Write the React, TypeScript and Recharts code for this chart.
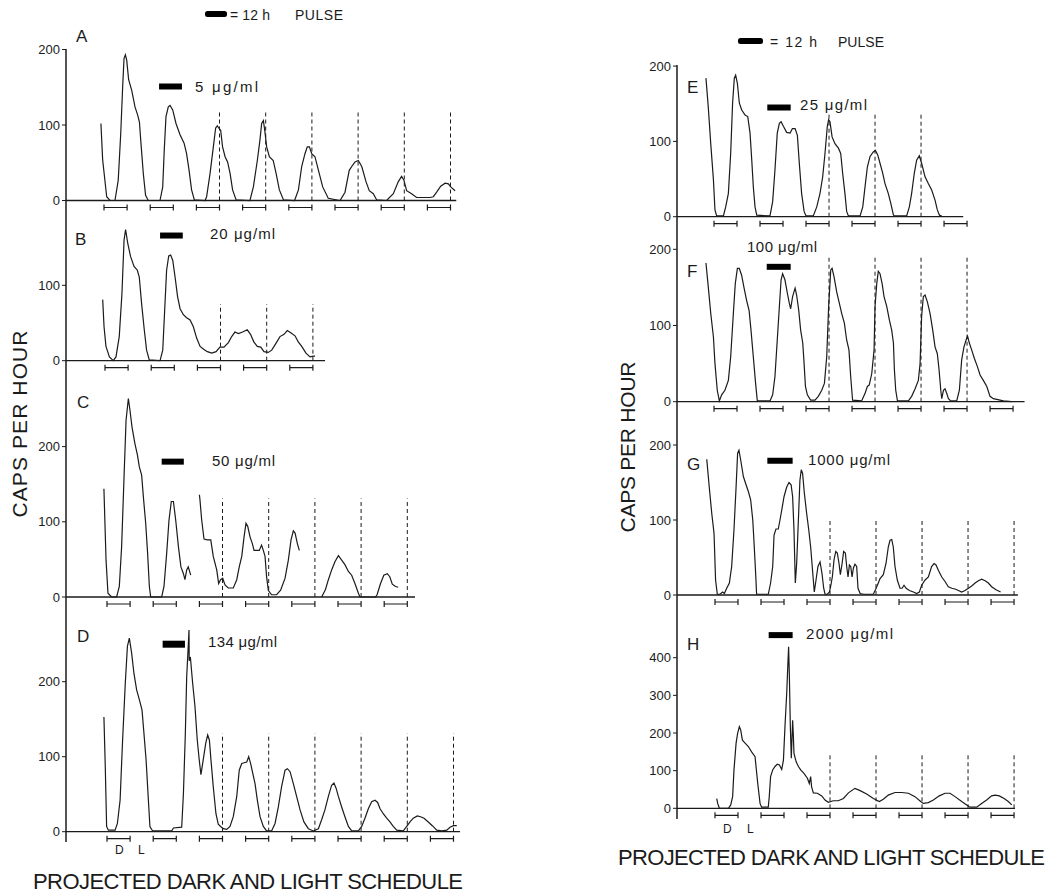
import React from "react";
import { LineChart, Line, XAxis, YAxis } from "recharts";

type Pt = [number, number | null];

// x = hours after the first projected dark onset, y = caps per hour
const traceA: Pt[] = [[-1.6,102],[-0.7,54],[1.4,5],[3.1,0],[5.7,0],[7.4,27],[8.7,89],[9.7,151],[10.4,188],[11.1,193],[11.8,186],[12.8,160],[14.4,146],[16.1,124],[17.5,113],[18.4,104],[19.2,76],[20.4,36],[21.6,7],[23.0,0],[29.1,0],[30.5,18],[31.3,67],[32.2,111],[33.4,124],[34.3,126],[35.7,120],[37.4,102],[39.5,87],[41.6,76],[42.9,62],[44.2,40],[45.5,14],[46.9,1],[52.5,0],[53.3,5],[55.1,36],[56.8,71],[58.0,96],[58.9,99],[59.6,96],[60.6,93],[61.6,71],[62.9,58],[64.2,51],[65.5,36],[66.8,14],[68.6,1],[75.8,0],[77.6,18],[79.7,54],[81.0,80],[81.9,102],[82.8,106],[83.6,91],[84.5,71],[85.9,58],[87.9,53],[89.4,36],[91.1,14],[93.2,1],[99.0,0],[101.0,14],[102.7,45],[104.4,62],[105.6,71],[106.7,71],[107.9,62],[109.6,58],[111.4,40],[113.6,18],[116.5,3],[122.6,0],[125.2,11],[127.4,40],[129.2,47],[130.4,51],[132.1,53],[133.9,45],[136.1,25],[137.8,13],[139.9,9],[141.6,1],[146.8,0],[150.3,9],[152.9,25],[154.6,32],[155.8,27],[157.2,13],[159.8,9],[162.4,4],[169.4,4],[171.1,5],[172.8,11],[174.9,19],[177.2,23],[178.9,22],[180.1,18],[182.4,13]];

const traceB: Pt[] = [[-1.2,81],[-0.5,45],[0.5,19],[2.3,5],[4.3,0],[5.7,5],[7.4,32],[8.8,89],[9.9,160],[10.7,174],[11.8,156],[13.3,138],[15.1,125],[16.8,120],[17.8,111],[19.0,76],[20.4,41],[21.6,14],[23.0,1],[28.6,0],[30.0,14],[31.0,67],[32.0,120],[33.1,139],[34.1,140],[35.2,133],[36.4,111],[37.7,85],[39.0,69],[40.7,61],[42.4,57],[44.2,54],[45.9,45],[47.6,30],[49.4,19],[51.4,15],[53.2,12],[55.4,10],[57.7,12],[59.7,18],[61.8,18],[64.1,24],[65.8,32],[67.5,38],[69.3,36],[71.5,38],[73.9,41],[75.6,35],[77.3,25],[79.1,19],[80.9,18],[82.6,12],[84.8,11],[86.6,14],[88.8,23],[90.9,32],[93.0,35],[94.7,40],[96.5,37],[98.7,33],[100.4,25],[102.2,19],[104.4,10],[106.5,5],[108.2,6],[109.1,6]];

const traceC: Pt[] = [[-1.6,144],[-0.5,49],[0.5,5],[2.4,0],[5.0,0],[6.4,14],[7.6,67],[8.8,156],[9.9,235],[11.1,264],[11.9,249],[13.0,226],[14.5,204],[15.8,189],[16.8,173],[18.0,162],[18.9,133],[20.1,98],[21.1,58],[22.0,14],[22.7,0],[28.4,0],[29.6,14],[31.0,58],[32.2,102],[33.4,127],[34.5,127],[35.7,102],[37.1,67],[38.4,40],[39.7,31],[40.5,23],[41.4,36],[42.2,40],[43.5,29],[43.6,null],[48.0,136],[48.3,129],[49.2,102],[50.4,77],[52.1,76],[53.9,76],[55.2,54],[57.0,36],[58.0,18],[59.0,23],[60.1,25],[61.3,16],[63.0,12],[65.6,12],[67.4,23],[68.7,40],[70.0,54],[71.2,80],[72.2,98],[73.1,94],[74.3,80],[75.5,71],[76.4,62],[77.7,62],[79.1,62],[80.3,69],[81.2,62],[82.1,54],[82.9,27],[83.8,9],[85.5,3],[88.1,3],[90.2,9],[92.5,25],[94.2,49],[95.6,76],[96.8,88],[97.7,85],[98.9,71],[99.9,62],[100.0,null],[111.5,0],[113.5,10],[115.0,23],[116.7,36],[118.4,47],[120.2,55],[121.9,49],[123.6,43],[125.4,34],[127.1,29],[128.8,18],[130.6,5],[131.4,0],[139.5,0],[140.3,3],[142.1,18],[143.8,29],[145.6,31],[146.9,27],[148.2,17],[149.9,14],[151.3,13]];

const traceD: Pt[] = [[-1.6,153],[-0.9,87],[-0.2,7],[0.7,2],[4.2,2],[5.4,11],[6.8,42],[8.1,122],[9.5,198],[10.6,247],[11.6,258],[12.8,238],[14.0,211],[15.4,189],[16.8,176],[18.2,162],[19.2,131],[20.3,96],[21.5,42],[22.3,7],[23.7,1],[33.6,1],[34.5,5],[38.8,6],[39.7,51],[40.7,131],[41.4,207],[42.1,242],[42.6,269],[42.7,228],[43.3,233],[44.5,198],[45.7,167],[46.9,122],[47.9,96],[48.8,76],[50.0,96],[51.3,118],[52.3,129],[53.2,122],[54.0,96],[55.2,60],[56.6,24],[57.8,10],[59.0,7],[60.4,4],[62.2,3],[63.9,7],[65.6,20],[67.4,47],[68.7,82],[70.0,91],[71.3,92],[72.6,93],[73.6,100],[74.6,91],[75.7,78],[76.9,64],[78.1,42],[79.5,20],[81.2,7],[82.9,1],[85.5,1],[87.3,11],[89.0,33],[90.7,60],[92.5,82],[93.7,84],[95.1,80],[96.8,64],[98.5,47],[100.3,29],[102.3,13],[104.6,4],[107.2,1],[109.8,4],[111.5,16],[113.2,29],[115.0,47],[116.7,62],[117.9,65],[119.0,58],[120.2,47],[121.9,33],[123.6,20],[125.4,7],[127.1,1],[130.6,1],[132.3,7],[134.0,18],[135.8,31],[137.5,40],[139.2,42],[140.6,39],[141.8,31],[143.5,24],[145.3,18],[147.0,13],[148.7,7],[150.5,2],[153.9,1],[155.7,7],[157.4,13],[159.1,18],[161.2,21],[162.9,20],[164.7,18],[166.9,13],[169.0,8],[171.3,2],[173.9,1],[176.5,2],[178.2,6],[180.0,8],[181.7,8]];

const traceE: Pt[] = [[-4.2,184],[-3.0,146],[-1.7,97],[-0.3,49],[0.5,9],[1.4,1],[4.9,1],[6.1,13],[7.5,31],[8.7,84],[9.7,151],[10.6,184],[11.3,188],[12.2,177],[13.2,151],[14.4,142],[16.2,135],[17.6,133],[18.8,111],[19.7,75],[20.5,40],[21.4,13],[22.3,2],[29.2,1],[30.6,20],[31.8,62],[33.0,111],[34.1,124],[35.0,126],[36.2,120],[37.9,112],[39.7,111],[40.9,117],[42.3,117],[43.5,108],[44.5,71],[45.7,31],[47.0,7],[48.0,1],[51.8,1],[53.6,13],[55.3,31],[56.7,53],[57.9,84],[59.1,120],[59.8,129],[60.5,126],[61.6,106],[63.1,97],[64.9,91],[66.1,84],[67.1,58],[68.3,31],[69.2,7],[70.1,1],[76.2,1],[77.6,13],[78.8,40],[80.0,66],[81.4,80],[83.1,86],[84.2,88],[85.4,82],[86.6,71],[88.0,58],[89.2,44],[90.9,31],[92.2,18],[93.6,2],[94.4,1],[100.5,1],[101.9,13],[103.1,31],[104.5,58],[105.7,75],[107.1,81],[108.3,71],[110.1,53],[111.8,44],[113.6,35],[115.3,22],[116.5,9],[117.6,2],[118.8,1]];

const traceF: Pt[] = [[-4.2,182],[-3.0,151],[-1.7,116],[-0.3,85],[0.5,50],[1.7,15],[2.8,1],[4.0,9],[5.7,15],[7.5,28],[8.7,59],[10.1,116],[11.1,155],[12.2,175],[13.2,175],[14.4,166],[15.7,149],[17.0,133],[18.3,120],[19.3,94],[20.5,59],[21.7,24],[22.6,1],[29.2,1],[30.6,9],[31.8,33],[33.0,81],[34.1,125],[35.0,160],[35.8,168],[37.0,160],[38.3,142],[39.3,129],[40.0,122],[41.0,138],[42.3,149],[43.1,140],[44.2,120],[45.2,94],[46.3,77],[47.0,50],[47.7,20],[48.7,9],[50.4,2],[52.7,2],[54.4,7],[56.2,15],[57.6,24],[58.8,59],[59.8,125],[60.9,173],[61.6,175],[62.6,164],[64.0,144],[65.4,129],[66.6,116],[68.0,103],[69.2,81],[70.4,68],[71.3,33],[72.3,2],[77.0,1],[78.8,11],[80.0,20],[81.0,22],[82.3,37],[83.5,68],[84.0,125],[84.9,155],[85.7,171],[86.6,168],[87.7,155],[88.7,138],[90.1,125],[91.5,107],[92.7,94],[93.6,77],[94.1,42],[94.8,15],[95.7,1],[101.4,1],[103.1,7],[104.9,17],[106.6,28],[107.5,50],[108.3,112],[109.2,138],[110.1,140],[111.3,131],[112.7,116],[114.1,94],[115.3,72],[116.5,63],[117.4,42],[118.3,15],[118.8,4],[119.7,15],[120.5,17],[121.4,11],[122.3,4],[123.5,1],[126.6,1],[128.0,15],[129.2,55],[130.4,72],[131.5,81],[132.3,86],[133.2,77],[134.4,68],[135.8,57],[137.4,46],[138.8,35],[140.5,28],[142.3,20],[144.0,7],[145.7,4],[147.5,3],[149.2,2],[151.0,1],[155.3,0]];

const traceG: Pt[] = [[-4.3,181],[-3.0,144],[-1.7,109],[-0.5,82],[0.3,20],[1.2,1],[2.6,1],[4.0,4],[4.9,2],[6.1,9],[7.5,16],[8.7,38],[9.9,87],[11.0,144],[11.8,189],[12.5,193],[13.4,180],[14.8,158],[16.2,147],[17.4,138],[18.6,127],[19.7,100],[20.3,73],[21.2,29],[21.7,1],[27.8,1],[29.0,16],[30.1,38],[30.8,80],[31.8,88],[33.0,88],[33.9,100],[34.8,113],[36.0,131],[37.4,144],[38.6,150],[39.7,147],[40.5,131],[41.2,87],[41.9,16],[42.6,42],[43.5,100],[44.3,153],[45.0,167],[45.7,162],[46.6,136],[47.8,109],[48.9,87],[49.9,64],[51.0,29],[51.8,4],[52.7,20],[53.7,38],[54.8,44],[55.8,29],[56.7,9],[57.4,1],[58.6,1],[59.7,4],[60.3,11],[61.2,24],[62.1,47],[63.0,58],[63.8,56],[64.7,42],[65.4,27],[66.3,42],[67.1,58],[68.0,56],[68.7,38],[69.4,24],[70.1,40],[70.8,38],[71.5,24],[72.2,36],[73.0,41],[73.9,38],[74.6,9],[75.7,2],[77.4,1],[82.6,1],[83.7,7],[84.7,13],[86.1,22],[87.8,27],[89.2,42],[90.4,64],[91.3,73],[92.2,74],[93.0,64],[93.9,38],[95.1,20],[96.5,9],[97.6,9],[98.6,13],[99.7,9],[101.4,6],[103.5,4],[105.2,2],[106.6,4],[107.8,13],[109.6,20],[111.3,24],[113.0,38],[114.3,42],[115.3,40],[116.5,33],[118.3,24],[120.0,18],[121.7,11],[123.5,9],[125.2,8],[127.0,6],[128.7,4],[130.4,6],[132.2,9],[133.9,12],[135.7,16],[137.4,19],[139.1,21],[140.9,19],[142.6,16],[144.3,11],[146.6,7],[149.0,4]];

const traceH: Pt[] = [[0.9,26],[1.4,13],[2.3,0],[7.0,0],[8.2,9],[9.2,31],[9.9,102],[11.0,173],[11.8,199],[12.7,217],[13.4,208],[14.3,181],[15.7,173],[17.4,164],[19.1,150],[20.9,137],[21.4,111],[22.3,66],[23.5,13],[24.3,3],[27.8,3],[28.3,31],[29.0,84],[30.1,102],[31.3,111],[32.5,117],[33.6,115],[34.8,103],[35.7,128],[36.5,217],[37.4,305],[38.1,394],[38.4,429],[38.8,350],[39.3,217],[39.8,133],[40.2,190],[40.5,234],[40.9,190],[41.2,146],[42.3,124],[43.5,111],[44.7,102],[46.4,93],[48.2,80],[49.2,66],[49.9,84],[50.4,57],[51.3,41],[53.4,40],[55.7,33],[57.4,22],[59.1,16],[61.7,20],[64.3,20],[67.0,26],[69.6,41],[73.0,53],[75.7,47],[79.1,38],[82.6,26],[85.7,18],[87.8,24],[90.4,35],[93.9,42],[97.4,42],[100.9,40],[104.3,31],[107.3,18],[108.7,13],[111.3,15],[113.9,22],[117.0,33],[120.0,40],[122.6,40],[125.2,31],[128.7,18],[131.3,9],[133.0,3],[136.5,3],[139.1,13],[141.7,22],[144.3,33],[146.1,35],[148.3,33],[150.8,26],[153.0,18],[154.8,9]];

// projected dark periods (onset hours; each lasts 12 h)
const darkA = [0, 24, 48, 72, 96, 120, 144, 168];
const darkB = [0, 24, 48, 72, 96];
const darkC = [0, 24, 48, 72, 96, 120, 144];
const darkD = [0, 24, 48, 72, 96, 120, 144, 168];
const darkE = [0, 24, 48, 72, 96, 120];
const darkF = [0, 24, 48, 72, 96, 120, 144];
const darkG = [0, 24, 48, 72, 96, 120, 144];
const darkH = [0, 24, 48, 72, 96, 120, 144];

// dashed markers at projected dark ends
const dashA = [60, 84, 108, 132, 156, 180];
const dashB = [60, 84, 108];
const dashC = [60, 84, 108, 132, 156];
const dashD = [60, 84, 108, 132, 156, 180];
const dashE = [60, 84, 108];
const dashF = [60, 84, 108, 132];
const dashG = [60, 84, 108, 132, 156];
const dashH = [60, 84, 108, 132, 156];

// drug pulse: [start h, end h, drawn at level]
const pulseA = [28.6, 40.5, 151];
const pulseB = [28.6, 40.4, 166];
const pulseC = [28.4, 39.9, 180];
const pulseD = [28.9, 40.5, 250];
const pulseE = [27.8, 40.0, 145];
const pulseF = [27.5, 40.0, 177];
const pulseG = [27.3, 40.5, 179];
const pulseH = [28.0, 40.5, 460];

const doses = ["5 μg/ml", "20 μg/ml", "50 μg/ml", "134 μg/ml", "25 μg/ml", "100 μg/ml", "1000 μg/ml", "2000 μg/ml"];
const letters = ["A", "B", "C", "D", "E", "F", "G", "H"];

const FONT = '"Liberation Sans", Arial, sans-serif';
const INK = "#1b1b1b";

interface Panel {
  trace: Pt[];
  dark: number[];
  dashed: number[];
  dashTop: number;
  pulse: number[];
  pulseW: number;
  ticks: number[];
  axisX: number;
  plotRight: number;
  hour0: number;
  pph: number;
  top: number;
  bottom: number;
  zeroY: number;
  ppu: number;
  baseEnd: number;
}

const L = { axisX: 66, plotRight: 468, pph: 1.925 };
const R = { axisX: 677, plotRight: 1030, pph: 1.917 };

const panels: Panel[] = [
  { ...L, trace: traceA, dark: darkA, dashed: dashA, dashTop: 118, pulse: pulseA, pulseW: 6, ticks: [0, 100, 200], hour0: 104, top: 49, bottom: 215, zeroY: 200.5, ppu: 0.755, baseEnd: 183 },
  { ...L, trace: traceB, dark: darkB, dashed: dashB, dashTop: 75, pulse: pulseB, pulseW: 6, ticks: [0, 100], hour0: 105, top: 215, bottom: 380, zeroY: 360.7, ppu: 0.754, baseEnd: 114.3 },
  { ...L, trace: traceC, dark: darkC, dashed: dashC, dashTop: 131, pulse: pulseC, pulseW: 6, ticks: [0, 100, 200], hour0: 107, top: 380, bottom: 610, zeroY: 597, ppu: 0.752, baseEnd: 160 },
  { ...L, trace: traceD, dark: darkD, dashed: dashD, dashTop: 131, pulse: pulseD, pulseW: 7, ticks: [0, 100, 200], hour0: 107, top: 610, bottom: 842, zeroY: 831.7, ppu: 0.75, baseEnd: 183.4 },
  { ...R, trace: traceE, dark: darkE, dashed: dashE, dashTop: 138, pulse: pulseE, pulseW: 6, ticks: [0, 100, 200], hour0: 714, top: 65, bottom: 235, zeroY: 216.7, ppu: 0.753, baseEnd: 130 },
  { ...R, trace: traceF, dark: darkF, dashed: dashF, dashTop: 192, pulse: pulseF, pulseW: 6, ticks: [0, 100, 200], hour0: 714, top: 235, bottom: 425, zeroY: 401.7, ppu: 0.762, baseEnd: 162 },
  { ...R, trace: traceG, dark: darkG, dashed: dashG, dashTop: 100, pulse: pulseG, pulseW: 6, ticks: [0, 100, 200], hour0: 715, top: 425, bottom: 618, zeroY: 595, ppu: 0.75, baseEnd: 158 },
  { ...R, trace: traceH, dark: darkH, dashed: dashH, dashTop: 145, pulse: pulseH, pulseW: 6, ticks: [0, 100, 200, 300, 400], hour0: 715, top: 618, bottom: 819, zeroY: 808.3, ppu: 0.3765, baseEnd: 156.5 },
];

// label placements: [x, baseline, textLength]
const letterPos = [[76, 42], [75, 245], [77, 408], [77, 642], [687, 93], [687, 277], [687, 470], [687, 650]];
const dosePos = [[195, 92, 63], [210, 239, 65], [212, 466, 63], [208, 647, 69], [800, 110, 67], [747, 252, 70], [808, 465, 82], [806, 639, 87]];

const YW = 40;
const M = { top: 8, right: 10, bottom: 10, left: 0 };

function PanelChart({ p }: { p: Panel }) {
  const xMin = (p.axisX - p.hour0) / p.pph;
  const xMax = (p.plotRight - p.hour0) / p.pph;
  const yMax = (p.zeroY - p.top) / p.ppu;
  const yMin = -(p.bottom - p.zeroY) / p.ppu;
  const plotW = p.plotRight - p.axisX;
  const plotH = p.bottom - p.top;

  const trace = p.trace.map(([x, y]) => ({ x, y }));
  const by = -7 / p.ppu;
  const cap = 3 / p.ppu;
  const brackets = p.dark.flatMap((o) => [
    { x: o, y: by + cap }, { x: o, y: by - cap }, { x: o, y: by },
    { x: o + 12, y: by }, { x: o + 12, y: by + cap }, { x: o + 12, y: by - cap },
    { x: o + 12, y: null },
  ]);
  const dashes = p.dashed.flatMap((h) => [{ x: h, y: 0 }, { x: h, y: p.dashTop }, { x: h, y: null }]);
  const pulse = [{ x: p.pulse[0], y: p.pulse[2] }, { x: p.pulse[1], y: p.pulse[2] }];
  const base = [{ x: xMin, y: 0 }, { x: p.baseEnd, y: 0 }];

  const common = { dataKey: "y", dot: false, activeDot: false, isAnimationActive: false, type: "linear" as const };

  return (
    <div style={{ position: "absolute", left: p.axisX - YW, top: p.top - M.top }}>
      <LineChart width={YW + plotW + M.right} height={plotH + M.top + M.bottom} margin={M}>
        <XAxis dataKey="x" type="number" domain={[xMin, xMax]} hide height={0} />
        <YAxis
          type="number"
          domain={[yMin, yMax]}
          ticks={p.ticks}
          width={YW}
          stroke={INK}
          axisLine={{ stroke: INK, strokeWidth: 1.5 }}
          tickSize={4}
          tickMargin={2}
          tick={{ fontSize: 13, fill: INK, fontFamily: FONT }}
        />
        <Line {...common} data={base} stroke={INK} strokeWidth={1.3} />
        <Line {...common} data={dashes} stroke={INK} strokeWidth={1} strokeDasharray="4 3" />
        <Line {...common} data={brackets} stroke={INK} strokeWidth={1.2} />
        <Line {...common} data={pulse} stroke="#000" strokeWidth={p.pulseW} />
        <Line {...common} data={trace} stroke={INK} strokeWidth={1.2} />
      </LineChart>
    </div>
  );
}

export default function App() {
  const txt = { fontFamily: FONT, fill: INK };
  return (
    <div style={{ position: "absolute", left: 0, top: 0, width: 1052, height: 894, background: "#fff", overflow: "hidden" }}>
      <svg width={1052} height={894} style={{ position: "absolute", left: 0, top: 0 }}>
        {/* pulse key, left and right */}
        <rect x={205} y={11} width={22} height={6} rx={2.5} fill="#000" />
        <text x={230} y={20} fontSize={14} textLength={40} {...txt}>= 12 h</text>
        <text x={295} y={20} fontSize={14} textLength={48} {...txt}>PULSE</text>
        <rect x={738} y={38} width={25} height={6} rx={2.5} fill="#000" />
        <text x={770} y={47} fontSize={14} textLength={47} {...txt}>= 12 h</text>
        <text x={838} y={47} fontSize={14} textLength={46} {...txt}>PULSE</text>

        {letters.map((l, i) => (
          <text key={l} x={letterPos[i][0]} y={letterPos[i][1]} fontSize={17} {...txt}>{l}</text>
        ))}
        {doses.map((d, i) => (
          <text key={d} x={dosePos[i][0]} y={dosePos[i][1]} fontSize={15} textLength={dosePos[i][2]} {...txt}>{d}</text>
        ))}

        <text transform="translate(27,424) rotate(-90)" textAnchor="middle" fontSize={21} textLength={187} {...txt}>CAPS PER HOUR</text>
        <text transform="translate(635,447) rotate(-90)" textAnchor="middle" fontSize={21} textLength={171} {...txt}>CAPS PER HOUR</text>

        <text x={115} y={854} fontSize={12} {...txt}>D</text>
        <text x={138} y={854} fontSize={12} {...txt}>L</text>
        <text x={723} y={833} fontSize={12} {...txt}>D</text>
        <text x={747} y={833} fontSize={12} {...txt}>L</text>

        <text x={33} y={889} fontSize={22} textLength={430} {...txt}>PROJECTED DARK AND LIGHT SCHEDULE</text>
        <text x={618} y={865} fontSize={22} textLength={427} {...txt}>PROJECTED DARK AND LIGHT SCHEDULE</text>
      </svg>
      {panels.map((p, i) => (
        <PanelChart key={i} p={p} />
      ))}
    </div>
  );
}
